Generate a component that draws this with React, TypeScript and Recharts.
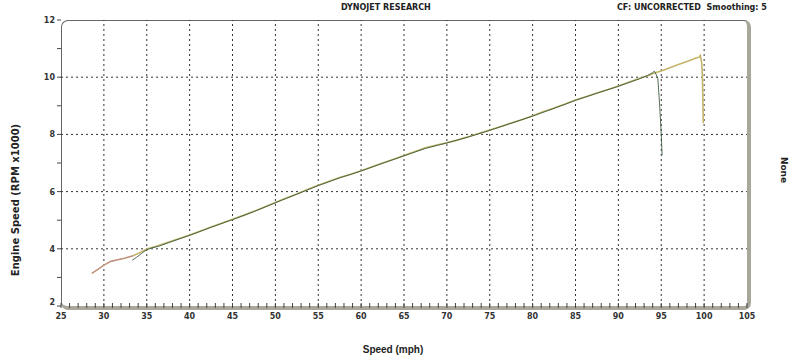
import { LineChart, Line, XAxis, YAxis, ReferenceLine } from "recharts";

// Run 1 (longer pull, ends ~100 mph)
const run1Speed = [
  28.6, 29.3, 30.0, 30.8, 31.6, 32.4, 33.4, 34.3, 35.0, 36.2, 37.5, 38.8, 40.0,
  41.2, 42.5, 43.8, 45.0, 46.2, 47.5, 48.8, 50.0, 51.2, 52.5, 53.8, 55.0, 56.2,
  57.5, 58.8, 60.0, 61.2, 62.5, 63.8, 65.0, 66.2, 67.5, 68.8, 70.0, 71.2, 72.5,
  73.8, 75.0, 76.2, 77.5, 78.8, 80.0, 81.2, 82.5, 83.8, 85.0, 86.2, 87.5, 88.8,
  90.0, 91.2, 92.5, 93.5, 94.2, 95.0, 96.0, 97.0, 98.0, 99.0, 99.4, 99.55, 99.7,
  99.8, 99.85, 99.9,
];
const run1Rpm = [
  3.14, 3.28, 3.43, 3.56, 3.62, 3.67, 3.76, 3.88, 3.99, 4.1, 4.23, 4.36, 4.48,
  4.61, 4.76, 4.9, 5.03, 5.16, 5.31, 5.47, 5.62, 5.77, 5.92, 6.08, 6.22, 6.35,
  6.49, 6.61, 6.73, 6.86, 7.0, 7.13, 7.26, 7.39, 7.53, 7.63, 7.71, 7.8, 7.92,
  8.04, 8.15, 8.27, 8.4, 8.52, 8.65, 8.79, 8.92, 9.06, 9.2, 9.32, 9.45, 9.57,
  9.69, 9.82, 9.96, 10.06, 10.15, 10.22, 10.33, 10.44, 10.55, 10.66, 10.7,
  10.76, 10.55, 10.05, 9.3, 8.39,
];

// Run 2 (starts ~33 mph, drops off at ~95 mph)
const run2Speed = [
  33.3, 33.8, 34.4, 35.0, 35.6, 36.4, 37.5, 40.0, 42.5, 45.0, 47.5, 50.0, 52.5,
  55.0, 57.5, 60.0, 62.5, 65.0, 67.5, 70.0, 72.5, 75.0, 77.5, 80.0, 82.5, 85.0,
  87.5, 90.0, 92.5, 93.4, 94.0, 94.2, 94.4, 94.6, 94.8, 95.0, 95.1,
];
const run2Rpm = [
  3.6, 3.7, 3.84, 3.97, 4.03, 4.09, 4.21, 4.47, 4.75, 5.02, 5.3, 5.61, 5.91,
  6.21, 6.48, 6.72, 6.99, 7.25, 7.51, 7.7, 7.91, 8.14, 8.39, 8.64, 8.91, 9.19,
  9.44, 9.68, 9.95, 10.06, 10.16, 10.21, 10.1, 9.95, 9.1, 8.0, 7.27,
];

const xLabels = [25, 30, 35, 40, 45, 50, 55, 60, 65, 70, 75, 80, 85, 90, 95, 100, 105];
const yLabels = [2, 4, 6, 8, 10, 12];
const xTicks = Array.from({ length: 81 }, (_, i) => 25 + i);
const yTicks = [2, 3, 4, 5, 6, 7, 8, 9, 10, 11, 12];

const run1 = run1Speed.map((s, i) => ({ speed: s, rpm: run1Rpm[i] }));
const run2 = run2Speed.map((s, i) => ({ speed: s, rpm: run2Rpm[i] }));
const run1Start = run1.slice(0, 7);

const tickFont = { fontFamily: "DejaVu Sans", fontWeight: 700, fontSize: 8, fill: "#333" };

const XTick = ({ x, y, payload }: any) => {
  const major = xLabels.includes(payload.value);
  return (
    <g>
      <line x1={x} x2={x} y1={y - 3} y2={y + 2} stroke="#444" strokeWidth={1} />
      {major && (
        <text x={x} y={y + 13} textAnchor="middle" {...tickFont}>
          {payload.value}
        </text>
      )}
    </g>
  );
};

const YTick = ({ x, y, payload }: any) => {
  const major = yLabels.includes(payload.value);
  return (
    <g>
      <line x1={x - 4} x2={x} y1={y} y2={y} stroke="#444" strokeWidth={1} />
      {major && (
        <text x={x - 6} y={payload.value === 2 ? y - 1 : y + 3} textAnchor="end" {...tickFont}>
          {payload.value}
        </text>
      )}
    </g>
  );
};

const textBold = {
  position: "absolute" as const,
  fontFamily: "DejaVu Sans",
  fontWeight: 700,
  color: "#222",
  whiteSpace: "nowrap" as const,
  lineHeight: 1,
};

export default function App() {
  return (
    <div style={{ position: "absolute", left: 0, top: 0, width: 800, height: 363, background: "#fff" }}>
      {/* plot frame */}
      <div
        style={{
          position: "absolute",
          left: 61,
          top: 20,
          width: 690,
          height: 290,
          boxSizing: "border-box",
          borderLeft: "1px solid #666",
          borderTop: "1px solid #666",
          borderRight: "4px solid #a8a79a",
          borderBottom: "4px solid #a8a79a",
          borderRadius: 7,
        }}
      />
      <div style={{ position: "absolute", left: 0, top: 0 }}>
        <LineChart
          width={800}
          height={363}
          margin={{ top: 20, right: 53, bottom: 27, left: 21 }}
        >
          <XAxis
            type="number"
            dataKey="speed"
            domain={[25, 105]}
            ticks={xTicks}
            interval={0}
            allowDataOverflow
            height={30}
            tickSize={0}
            tickMargin={0}
            axisLine={false}
            tickLine={false}
            tick={<XTick />}
          />
          <YAxis
            type="number"
            dataKey="rpm"
            domain={[2, 12]}
            ticks={yTicks}
            interval={0}
            allowDataOverflow
            width={40}
            tickSize={0}
            tickMargin={0}
            axisLine={false}
            tickLine={false}
            tick={<YTick />}
          />
          {xLabels.slice(1, -1).map((v) => (
            <ReferenceLine key={"x" + v} x={v} stroke="#333" strokeDasharray="2 3" />
          ))}
          {yLabels.slice(1, -1).map((v) => (
            <ReferenceLine key={"y" + v} y={v} stroke="#333" strokeDasharray="2 3" />
          ))}
          <Line
            data={run1}
            dataKey="rpm"
            type="linear"
            stroke="#c4b46a"
            strokeWidth={1.6}
            dot={false}
            isAnimationActive={false}
          />
          <Line
            data={run1Start}
            dataKey="rpm"
            type="linear"
            stroke="#c48a94"
            strokeWidth={1.1}
            dot={false}
            isAnimationActive={false}
          />
          <Line
            data={run2}
            dataKey="rpm"
            type="linear"
            stroke="#35573a"
            strokeOpacity={0.85}
            strokeWidth={1}
            dot={false}
            isAnimationActive={false}
          />
        </LineChart>
      </div>
      <div style={{ ...textBold, fontSize: 8, left: 341, top: 4 }}>DYNOJET RESEARCH</div>
      <div style={{ ...textBold, fontSize: 8, left: 617, top: 4 }}>CF: UNCORRECTED&nbsp; Smoothing: 5</div>
      <div
        style={{
          ...textBold,
          fontSize: 10,
          left: 16,
          top: 200,
          transform: "translate(-50%, -50%) rotate(-90deg)",
        }}
      >
        Engine Speed (RPM x1000)
      </div>
      <div
        style={{
          ...textBold,
          fontSize: 9,
          left: 783,
          top: 170,
          transform: "translate(-50%, -50%) rotate(90deg)",
        }}
      >
        None
      </div>
      <div
        style={{
          ...textBold,
          fontFamily: "Liberation Sans",
          fontSize: 10,
          left: 393,
          top: 350,
          transform: "translate(-50%, -50%)",
        }}
      >
        Speed (mph)
      </div>
    </div>
  );
}
